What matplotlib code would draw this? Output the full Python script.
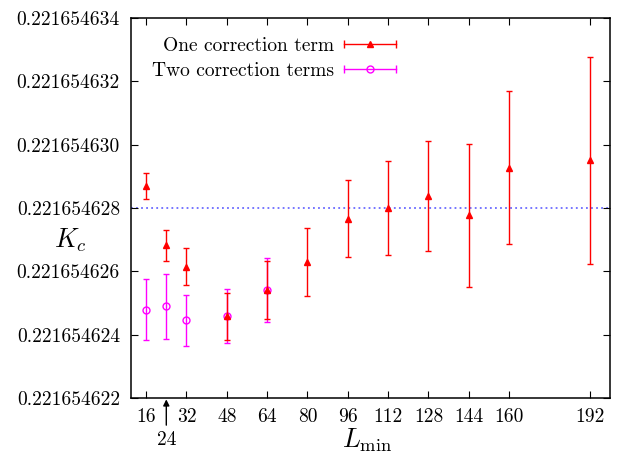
import matplotlib
matplotlib.use("Agg")
import matplotlib.pyplot as plt
from matplotlib.container import ErrorbarContainer
from matplotlib.legend_handler import HandlerBase
from matplotlib.lines import Line2D

plt.rcParams["font.family"] = ["cmr10"]
plt.rcParams["mathtext.fontset"] = "cm"
plt.rcParams["axes.formatter.use_mathtext"] = True

# critical coupling estimates vs. smallest lattice size used in the fit
L_one = [16, 24, 32, 48, 64, 80, 96, 112, 128, 144, 160, 192]
K_one = [0.2216546287, 0.22165462683, 0.22165462615, 0.22165462458, 0.22165462541,
         0.22165462629, 0.22165462766, 0.2216546280, 0.22165462838, 0.22165462777,
         0.22165462927, 0.22165462951]
err_one = [0.42e-9, 0.49e-9, 0.58e-9, 0.75e-9, 0.93e-9, 1.08e-9,
           1.22e-9, 1.47e-9, 1.75e-9, 2.25e-9, 2.41e-9, 3.27e-9]

L_two = [16, 24, 32, 48, 64]
K_two = [0.22165462479, 0.2216546249, 0.22165462445, 0.22165462459, 0.22165462541]
err_two = [0.96e-9, 1.03e-9, 0.81e-9, 0.86e-9, 1.01e-9]

K_ref = 0.221654628

xticks = [16, 32, 48, 64, 80, 96, 112, 128, 144, 160, 192]
yticks = [0.221654622, 0.221654624, 0.221654626, 0.221654628,
          0.221654630, 0.221654632, 0.221654634]


class CapLineHandler(HandlerBase):
    # gnuplot-like key: horizontal bar with end caps and the point in the middle
    def create_artists(self, legend, orig, xdescent, ydescent, width, height,
                       fontsize, trans):
        data_line = orig.lines[0]
        c = data_line.get_color()
        y = height / 2 - ydescent
        x0, x1 = -xdescent, -xdescent + width
        bar = Line2D([x0, x1], [y, y], color=c, lw=1.0)
        caps = Line2D([x0, x1], [y, y], ls="", marker="|", ms=6, mew=1.0, color=c)
        pt = Line2D([(x0 + x1) / 2], [y], ls="", marker=data_line.get_marker(),
                    ms=data_line.get_markersize(), mfc=data_line.get_markerfacecolor(),
                    mec=c, mew=1.0)
        for a in (bar, caps, pt):
            a.set_transform(trans)
        return [bar, caps, pt]


fig = plt.figure(figsize=(6.26, 4.57), dpi=100)
ax = fig.add_axes([131 / 626, 1 - 398 / 457, 479 / 626, 380 / 457])

ax.axhline(K_ref, color="#6a6aff", ls=(0, (1, 1.8)), lw=1.3, zorder=1)

one = ax.errorbar(L_one, K_one, yerr=err_one, fmt="^", color="#ff0000", ms=4,
                  elinewidth=1.0, capsize=2.5, capthick=1.0, zorder=3,
                  label="One correction term")
two = ax.errorbar(L_two, K_two, yerr=err_two, fmt="o", color="#ff00ff", mfc="none",
                  ms=5, mew=1.0, elinewidth=1.0, capsize=2.5, capthick=1.0, zorder=2,
                  label="Two correction terms")

ax.set_xlim(10, 200)
ax.set_ylim(0.221654622, 0.221654634)
ax.set_xticks(xticks)
ax.set_xticklabels([str(v) for v in xticks])
ax.set_yticks(yticks)
ax.set_yticklabels(["%.9f" % v for v in yticks])
ax.tick_params(direction="in", top=True, right=True, length=5, width=0.8,
               labelsize=14)
ax.tick_params(axis="y", pad=8)
ax.tick_params(axis="x", pad=7)
for s in ax.spines.values():
    s.set_linewidth(1.1)

# 24 is labelled below the others with a small arrow
ax.annotate("24", xy=(24, 0.221654622), xytext=(24, -30), textcoords=("data", "offset points"),
            ha="center", va="center", fontsize=14,
            arrowprops=dict(arrowstyle="-|>", color="black", lw=1.0,
                            mutation_scale=9, shrinkA=2, shrinkB=1))

ax.set_xlabel(r"$L_{\min}$", fontsize=19, va="center")
ax.xaxis.set_label_coords(0.493, -0.11)
ax.set_ylabel(r"$K_c$", fontsize=19, rotation=0, va="center", ha="center")
ax.yaxis.set_label_coords(-0.127, 0.415)

ax.legend(handles=[one, two], loc="upper left", bbox_to_anchor=(0.028, 0.97),
          frameon=False, markerfirst=False, fontsize=14, handlelength=2.7,
          labelspacing=0.35, handletextpad=0.5, borderaxespad=0,
          handler_map={ErrorbarContainer: CapLineHandler()})

fig.savefig("out.png", dpi=100)
